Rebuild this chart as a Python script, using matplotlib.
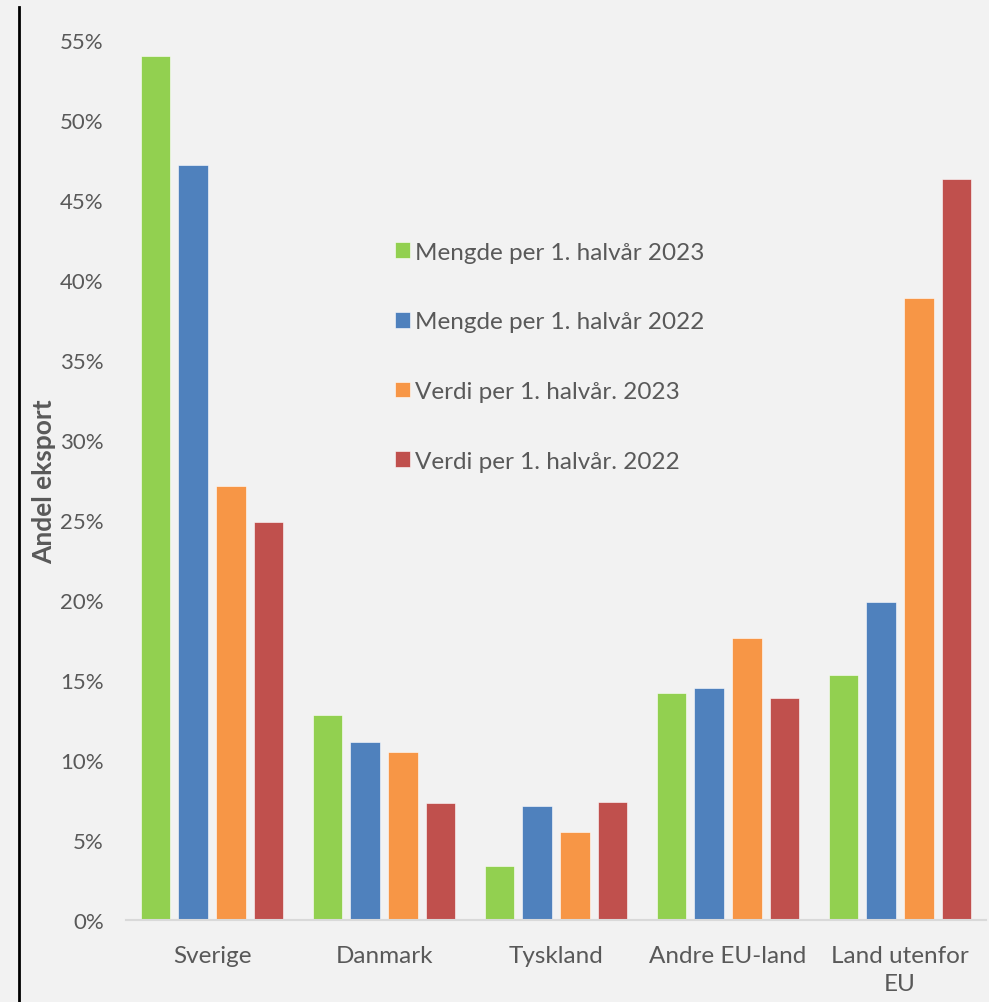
import matplotlib.pyplot as plt
import numpy as np
from matplotlib.lines import Line2D

categories = ["Sverige", "Danmark", "Tyskland", "Andre EU-land", "Land utenfor\nEU"]
series = [
    "Mengde per 1. halvår 2023",
    "Mengde per 1. halvår 2022",
    "Verdi per 1. halvår. 2023",
    "Verdi per 1. halvår. 2022",
]
mengde_2023 = [54.0, 12.8, 3.4, 14.2, 15.3]
mengde_2022 = [47.2, 11.1, 7.1, 14.5, 19.9]
verdi_2023 = [27.1, 10.5, 5.5, 17.6, 38.9]
verdi_2022 = [24.9, 7.3, 7.4, 13.9, 46.3]
yticks = [0, 5, 10, 15, 20, 25, 30, 35, 40, 45, 50, 55]

colors = ["#92d050", "#4f81bd", "#f79646", "#c0504d"]
text_color = "#595959"
bg = "#f2f2f2"

plt.rcParams["font.family"] = ["Lato", "DejaVu Sans"]

fig = plt.figure(figsize=(9.89, 10.03), dpi=100, facecolor=bg)
ax = fig.add_axes([126 / 989, 1 - 921 / 1003, 860 / 989, 880 / 1003])
ax.set_facecolor(bg)

x = np.arange(len(categories))
slot = 0.219
width = 0.172
data = [mengde_2023, mengde_2022, verdi_2023, verdi_2022]
for i, (vals, color, label) in enumerate(zip(data, colors, series)):
    ax.bar(x + (i - 1.5) * slot, vals, width, color=color, label=label,
           edgecolor="white", linewidth=0.4)

ax.set_xlim(-0.5, len(categories) - 0.5)
ax.set_ylim(0, 55)
ax.set_yticks(yticks)
ax.set_yticklabels([f"{t}%" for t in yticks], fontsize=16, color=text_color)
ax.set_xticks(x)
ax.set_xticklabels(categories, fontsize=17.5, color=text_color, linespacing=1.4)
ax.tick_params(axis="both", length=0)
ax.tick_params(axis="y", pad=16)
ax.tick_params(axis="x", pad=18)

for side in ["top", "right", "left"]:
    ax.spines[side].set_visible(False)
ax.spines["bottom"].set_color("#d9d9d9")
ax.spines["bottom"].set_linewidth(1.5)

fig.text(44 / 989, 1 - 482 / 1003, "Andel eksport", rotation=90, fontsize=19,
         fontweight="bold", color=text_color, ha="center", va="center")

# black vertical line on the left edge
fig.add_artist(Line2D([18.5 / 989, 18.5 / 989], [1 - 8 / 1003, 0],
                      color="black", linewidth=2))

leg = ax.legend(loc="upper left", bbox_to_anchor=(259 / 860, 1 - 192 / 880),
                frameon=False, fontsize=17.5, labelcolor=text_color,
                handlelength=0.62, handleheight=0.62, handletextpad=0.2,
                labelspacing=2.0, borderaxespad=0)

fig.savefig("out.png", dpi=100, facecolor=bg)
